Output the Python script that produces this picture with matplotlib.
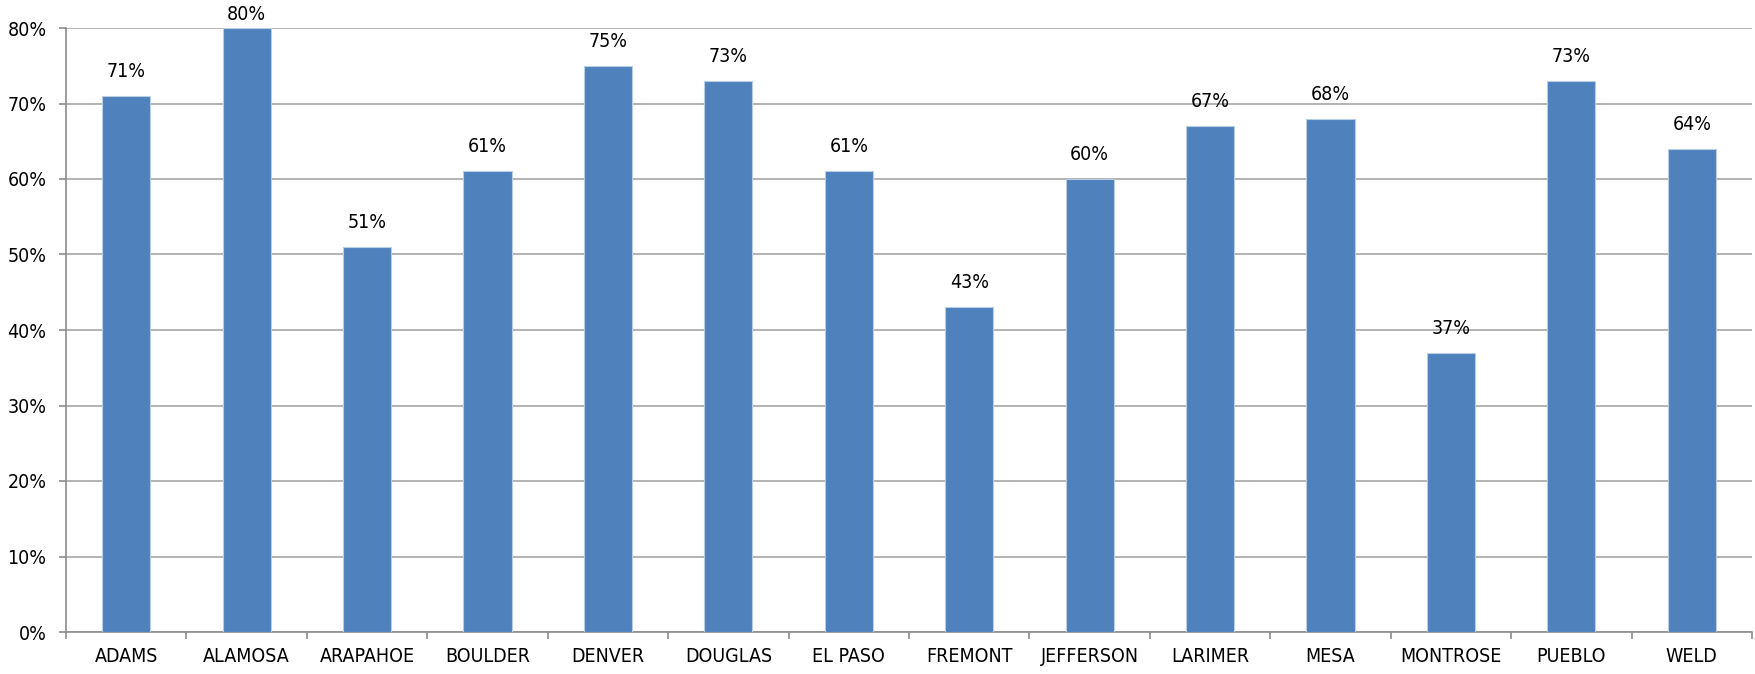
import matplotlib
matplotlib.use('Agg')
import matplotlib.pyplot as plt
from matplotlib import font_manager
from matplotlib.ticker import FuncFormatter, MultipleLocator

counties = ['ADAMS', 'ALAMOSA', 'ARAPAHOE', 'BOULDER', 'DENVER', 'DOUGLAS', 'EL PASO',
            'FREMONT', 'JEFFERSON', 'LARIMER', 'MESA', 'MONTROSE', 'PUEBLO', 'WELD']
pct = [71, 80, 51, 61, 75, 73, 61, 43, 60, 67, 68, 37, 73, 64]

# narrow face like the original, if there is one
names = {f.name for f in font_manager.fontManager.ttflist}
fam = 'Liberation Sans Narrow' if 'Liberation Sans Narrow' in names else 'DejaVu Sans'
plt.rcParams['font.family'] = [fam, 'DejaVu Sans']
plt.rcParams['font.stretch'] = 'condensed'

fig = plt.figure(figsize=(17.56, 6.74), dpi=100)
ax = fig.add_axes([66 / 1756, 1 - 632 / 674, (1752 - 66) / 1756, (632 - 28) / 674])

x = range(len(counties))
ax.bar(x, pct, width=0.4, color='#4F81BD', edgecolor='#B9CDE5', linewidth=0.8, zorder=3)
for xi, v in zip(x, pct):
    # label sits just above bar, pushed down at the top edge
    ax.text(xi, min(v + 2.0, 80.5), f'{v}%', ha='center', va='bottom',
            fontsize=14, color='#000000')

ax.set_xlim(-0.5, len(counties) - 0.5)
ax.set_ylim(0, 80)
ax.yaxis.set_major_locator(MultipleLocator(10))
ax.yaxis.set_major_formatter(FuncFormatter(lambda v, _: f'{v:.0f}%'))
ax.grid(axis='y', color='#A6A6A6', linewidth=1.2, zorder=0)

ax.set_xticks([i - 0.5 for i in range(len(counties) + 1)], minor=False)
ax.set_xticklabels([])
ax.set_xticks(list(x), minor=True)
ax.set_xticklabels(counties, minor=True)
ax.tick_params(axis='x', which='major', length=5, color='#8C8C8C', width=1.2)
ax.tick_params(axis='x', which='minor', length=0, pad=11, labelsize=14)
ax.tick_params(axis='y', length=5, color='#8C8C8C', width=1.2, labelsize=14, pad=9)

for s in ['top', 'right']:
    ax.spines[s].set_visible(False)
for s in ['left', 'bottom']:
    ax.spines[s].set_color('#8C8C8C')
    ax.spines[s].set_linewidth(1.2)

fig.savefig('out.png', dpi=100)
